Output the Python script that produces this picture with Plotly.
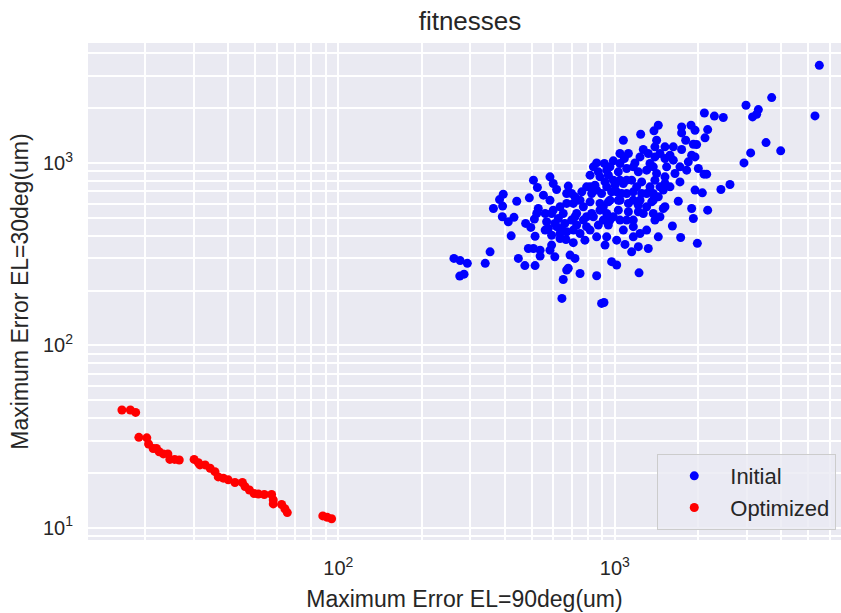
import plotly.graph_objects as go
import math

# ---------------- data ----------------
initial_x = [262, 276, 293, 275, 285, 340, 354, 364, 383, 395, 393, 392, 412, 432, 422, 442, 491, 476, 497, 512,
             515, 508, 525, 552, 583, 599, 616, 583, 529, 560, 591, 567, 560, 591, 575, 607, 625, 651, 679, 698,
             670, 708, 718, 698, 660, 670, 634, 666, 708, 591, 583, 607, 487, 508, 537, 537, 448, 473, 515, 689,
             718, 679, 670, 651, 644, 616, 642, 718, 1437, 1386, 1241, 1074, 1417, 1397, 1268, 1322, 1120, 1083, 1183, 988,
             860, 917, 1397, 1519, 814, 872, 948, 1030, 1104, 1217, 1304, 1417, 1519, 1397, 1251, 1151, 1074, 1002, 922, 848,
             791, 760, 825, 896, 974, 1059, 1167, 1251, 1498, 1437, 749, 814, 884, 948, 1030, 1120, 1217, 1360, 1519, 770,
             884, 961, 1030, 1120, 1217, 1498, 1397, 1457, 728, 814, 872, 948, 1074, 1167, 1234, 1437, 780, 922, 1089, 1217,
             1322, 1151, 974, 1016, 749, 860, 1224, 896, 914, 2109, 2292, 2469, 1745, 1887, 1951, 1745, 2168, 2120, 1805, 1978,
             1519, 1628, 1745, 1584, 1897, 1951, 1845, 2006, 1820, 2150, 2103, 1651, 1721, 1519, 1584, 1951, 2074, 2421, 1697, 1897,
             2168, 1924, 1616, 1731, 1989, 5493, 2983, 3306, 3260, 3150, 3694, 5298, 3524, 3982, 3101, 2933, 2610, 1924,
             1044, 961, 1104, 1200, 1341, 1304, 1378, 1457, 1016, 909, 825, 988, 1167, 1044, 909, 935, 728, 791, 1378, 1234, 884,
             837, 935, 1044, 1167, 1341, 1457, 1628, 1721, 1104, 988, 935, 860, 1044, 1167, 1304, 1378, 1104, 837, 770, 708,
             749, 860, 1016, 1167, 1304, 1378, 1540, 1234, 1044, 961, 814, 728, 670, 634, 599, 522, 634, 791, 935, 1268]
initial_y = [300, 292, 282, 240, 246, 282, 326, 564, 631, 675, 581, 508, 477, 504, 399, 618, 645, 467, 444, 493,
             397, 806, 735, 667, 841, 773, 717, 626, 564, 529, 529, 477, 429, 402, 438, 467, 497, 529, 748, 681,
             601, 601, 653, 487, 467, 420, 386, 381, 366, 355, 333, 306, 340, 340, 333, 309, 300, 274, 274, 313,
             300, 265, 259, 230, 181, 448, 438, 508, 1614, 1503, 1440, 1335, 1335, 1228, 1188, 1129, 1129, 1060, 1003, 1029,
             1003, 995, 1082, 1060, 859, 896, 859, 896, 934, 896, 915, 877, 841, 806, 789, 806, 773, 757, 789, 757,
             741, 696, 681, 681, 696, 681, 696, 681, 711, 653, 626, 613, 601, 613, 626, 601, 588, 613, 576, 576,
             552, 487, 552, 541, 541, 564, 487, 508, 457, 429, 457, 457, 429, 394, 411, 394, 378, 355, 358, 348,
             340, 326, 288, 276, 248, 241, 250, 170, 172, 1884, 1812, 1779, 1580, 1614, 1515, 1464, 1528, 1376, 1335, 1264,
             1228, 1228, 1188, 1105, 1105, 1082, 1016, 934, 915, 870, 870, 877, 789, 773, 741, 711, 687, 717, 618, 564,
             552, 497, 452, 391, 363, 3440, 2077, 1967, 1855, 1793, 2288, 1815, 1296, 1168, 1138, 1003, 763, 1270,
             806, 626, 681, 741, 741, 681, 626, 741, 696, 576, 529, 508, 487, 487, 487, 394, 529, 508, 681, 626, 841,
             954, 915, 995, 954, 995, 1129, 1038, 954, 806, 806, 741, 711, 626, 626, 576, 529, 487, 508, 487, 429,
             411, 394, 378, 448, 429, 954, 954, 1082, 1129, 954, 741, 626, 681, 576, 552, 529, 411, 448, 529, 529]

optimized_x = [16.5, 17.7, 18.5, 19.0, 20.3, 20.6, 21.4, 22.0, 22.5, 23.3, 24.2, 24.6, 25.6, 26.6, 30.1, 31.2,
               31.6, 33.0, 34.4, 35.8, 36.8, 38.4, 40.0, 42.3, 45.0, 46.0, 47.7, 49.6, 51.4, 54.0, 57.4, 58.2,
               58.2, 62.4, 64.1, 65.4, 87.9, 91.2, 94.6]
optimized_y = [44.2, 44.2, 42.9, 31.3, 31.1, 28.8, 27.2, 27.2, 26.1, 25.4, 25.4, 23.7, 23.7, 23.5, 23.7, 22.7,
               22.1, 22.1, 21.2, 20.3, 19.0, 18.7, 18.3, 17.7, 17.7, 16.8, 16.1, 15.4, 15.3, 15.2, 15.2, 14.2,
               13.5, 13.4, 12.7, 12.1, 11.6, 11.4, 11.2]

x_major = [100, 1000]
x_major_text = ["10<sup>2</sup>", "10<sup>3</sup>"]
y_major = [10, 100, 1000]
y_major_text = ["10<sup>1</sup>", "10<sup>2</sup>", "10<sup>3</sup>"]
x_minor = [20, 30, 40, 50, 60, 70, 80, 90, 200, 300, 400, 500, 600, 700, 800, 900,
           2000, 3000, 4000, 5000, 6000]
y_minor = [9, 20, 30, 40, 50, 60, 70, 80, 90, 200, 300, 400, 500, 600, 700, 800, 900,
           2000, 3000, 4000]

x_range = [12.44, 6580]
y_range = [8.56, 4560]

# ---------------- figure ----------------
FONT = "Liberation Sans, Arial, sans-serif"
TXT = "#262626"
BG = "#EAEAF2"

fig = go.Figure()
fig.add_trace(go.Scatter(x=initial_x, y=initial_y, mode="markers", name="Initial",
                         marker=dict(color="#0000FF", size=9, line=dict(width=0))))
fig.add_trace(go.Scatter(x=optimized_x, y=optimized_y, mode="markers", name="Optimized",
                         marker=dict(color="#FF0000", size=9, line=dict(width=0))))

axis_common = dict(
    type="log", showline=False, zeroline=False, ticks="",
    gridcolor="white", gridwidth=1.7, automargin=False,
    tickfont=dict(family=FONT, size=20, color=TXT),
    title_font=dict(family=FONT, size=23, color=TXT),
)

fig.update_xaxes(
    **axis_common,
    range=[math.log10(x_range[0]), math.log10(x_range[1])],
    tickmode="array", tickvals=x_major, ticktext=x_major_text,
    minor=dict(tickmode="array", tickvals=x_minor, showgrid=True, gridcolor="white", gridwidth=1.5, ticks=""),
    title=dict(text="Maximum Error EL=90deg(um)", standoff=12),
    ticklabelstandoff=14,
)
fig.update_yaxes(
    **axis_common,
    range=[math.log10(y_range[0]), math.log10(y_range[1])],
    tickmode="array", tickvals=y_major, ticktext=y_major_text,
    minor=dict(tickmode="array", tickvals=y_minor, showgrid=True, gridcolor="white", gridwidth=1.5, ticks=""),
    title=dict(text="Maximum Error EL=30deg(um)", standoff=7),
    ticklabelstandoff=14,
)

fig.update_layout(
    width=841, height=613,
    margin=dict(l=88, r=0, t=43, b=73, autoexpand=False),
    paper_bgcolor="white", plot_bgcolor=BG,
    font=dict(family=FONT, color=TXT),
    title=dict(text="fitnesses", x=470 / 841, xanchor="center", y=1 - 21 / 613, yanchor="middle",
               font=dict(family=FONT, size=26, color=TXT)),
    legend=dict(x=0.756, xanchor="left", y=0.02, yanchor="bottom",
                bgcolor="rgba(234,234,242,0.8)", bordercolor="#CCCCCC", borderwidth=1,
                font=dict(family=FONT, size=22, color=TXT), itemwidth=62),
    showlegend=True,
)

fig.write_html(
    "out.html",
    config={"displayModeBar": False},
    post_script=(
        "document.documentElement.style.overflow='hidden';"
        "document.body.style.margin='0';"
        "document.body.style.overflow='hidden';"
    ),
)
